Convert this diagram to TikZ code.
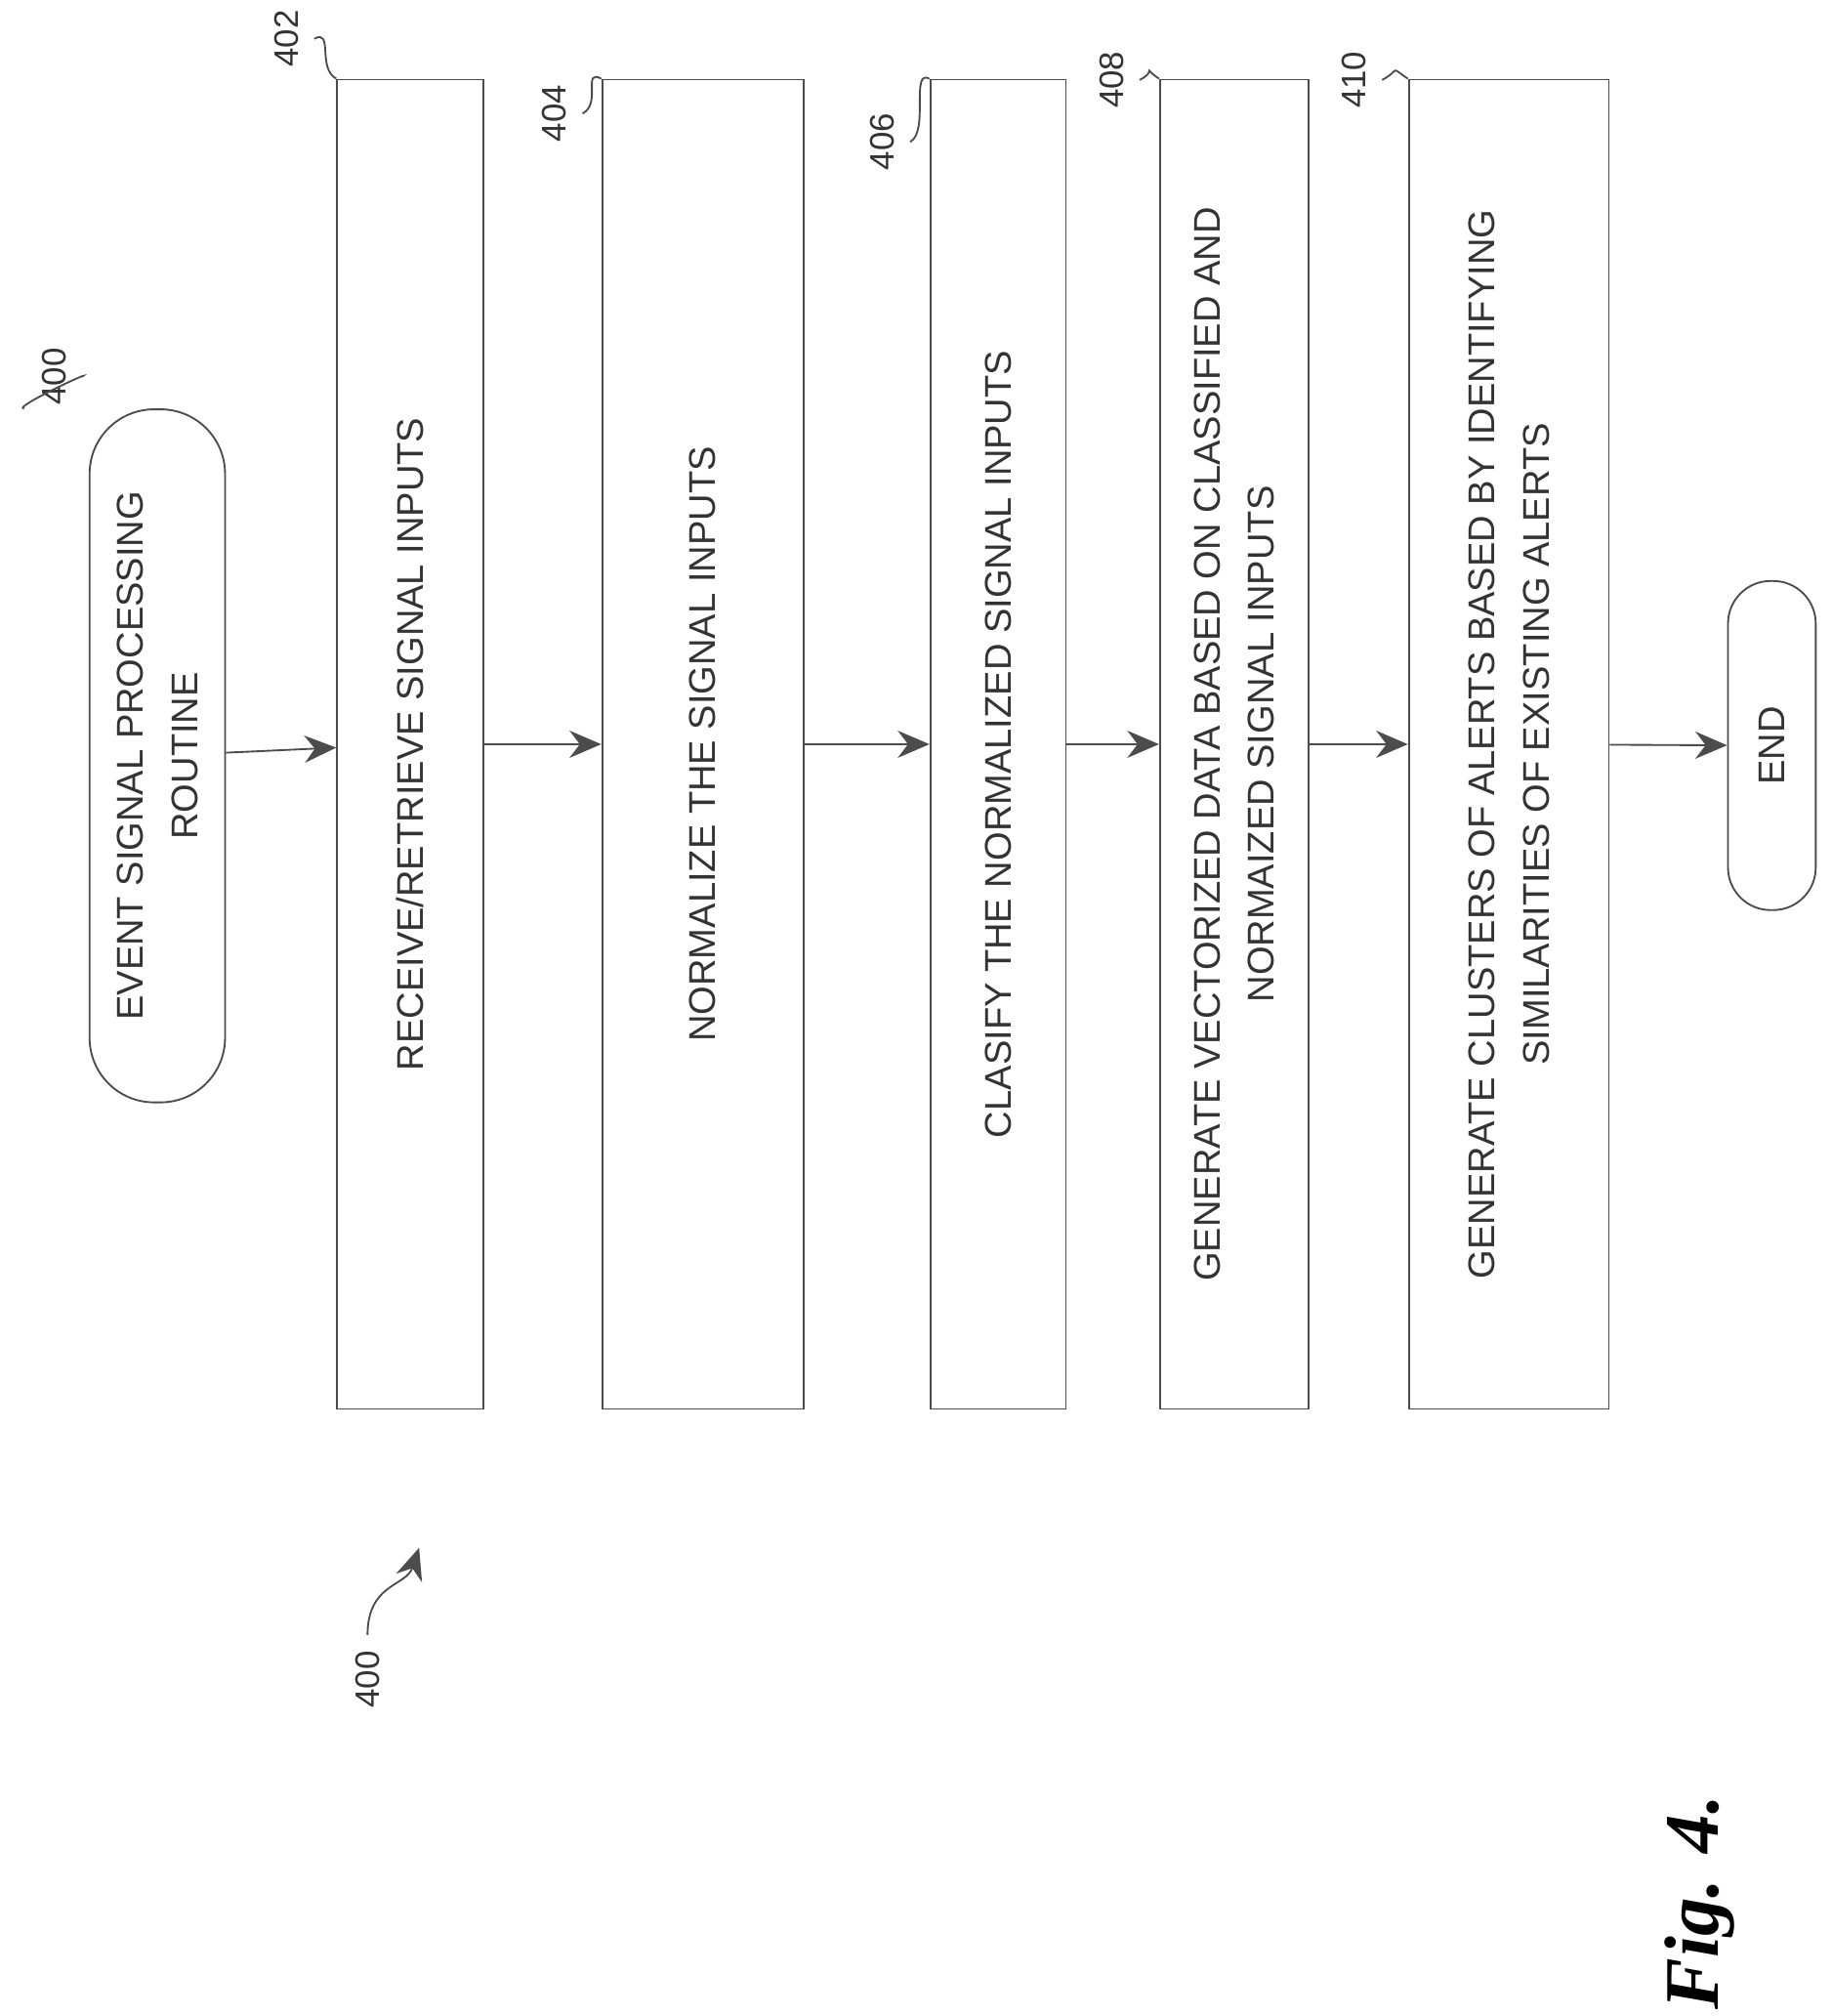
\documentclass[tikz,border=0pt]{standalone}
\usepackage{fontspec}
\setmainfont{Liberation Sans}
\newfontfamily\figfont{Liberation Serif}
\usetikzlibrary{arrows.meta,positioning}
\begin{document}
\begin{tikzpicture}[x=0.01cm,y=-0.01cm,
  stepbox/.style={draw=black!70,rectangle,rotate=90,align=center,inner sep=2pt,
    font=\fontsize{8.2}{12}\selectfont,text=black!80,minimum width=10.3cm},
  term/.style={stepbox,rounded corners=0.5cm},
  flow/.style={-{Stealth[length=7pt,width=6pt]},draw=black!70},
  ref/.style={font=\fontsize{7.5}{9}\selectfont,rotate=90,text=black!80},
  lead/.style={draw=black!70}]

\useasboundingbox (0,0) rectangle (1420,1563);

% flow steps
\node[term,minimum width=5.37cm,minimum height=1.05cm] (start) at (122,586) {EVENT SIGNAL PROCESSING\\ROUTINE};
\node[stepbox,minimum height=1.13cm] (recv) at (318,577) {RECEIVE/RETRIEVE SIGNAL INPUTS};
\node[stepbox,minimum height=1.56cm] (norm) at (545,577) {NORMALIZE THE SIGNAL INPUTS};
\node[stepbox,minimum height=1.05cm] (clas) at (774,577) {CLASIFY THE NORMALIZED SIGNAL INPUTS};
\node[stepbox,minimum height=1.15cm] (vect) at (957,577) {GENERATE VECTORIZED DATA BASED ON CLASSIFIED AND\\NORMAIZED SIGNAL INPUTS};
\node[stepbox,minimum height=1.55cm] (clus) at (1170,577) {GENERATE CLUSTERS OF ALERTS BASED BY IDENTIFYING\\SIMILARITIES OF EXISTING ALERTS};
\node[stepbox,rounded corners=0.33cm,minimum width=2.55cm,minimum height=0.68cm] (end) at (1374,578) {END};

% connectors
\draw[flow] (start) -- (recv);
\draw[flow] (recv) -- (norm);
\draw[flow] (norm) -- (clas);
\draw[flow] (clas) -- (vect);
\draw[flow] (vect) -- (clus);
\draw[flow] (clus) -- (end);

% reference numerals
\node[ref] (n400a) at (42,292) {400};
\draw[lead] (n400a.south) .. controls +(8,-5) and +(-10,0) .. ([xshift=-0.5cm]start.north east);
\node[ref] (n402) at (222,30) {402};
\draw[lead] (n402.south) .. controls +(15,-8) and +(-15,-8) .. (recv.north east);
\node[ref] (n404) at (430,88) {404};
\draw[lead] (n404.south) .. controls +(15,-8) and +(-15,-8) .. (norm.north east);
\node[ref] (n406) at (684,110) {406};
\draw[lead] (n406.south) .. controls +(15,-8) and +(-15,-8) .. (clas.north east);
\node[ref] (n408) at (862,62) {408};
\draw[lead] (n408.south) .. controls +(15,-8) and +(-15,-10) .. (vect.north east);
\node[ref] (n410) at (1050,62) {410};
\draw[lead] (n410.south) .. controls +(15,-8) and +(-15,-10) .. (clus.north east);

\node[ref] (n400) at (285,1302) {400};
\coordinate (tip) at (325,1200);
\draw[flow] (n400.east) .. controls +(0,-40) and +(-10,30) .. (tip);

\node[rotate=90,font=\figfont\fontsize{17}{17}\selectfont\bfseries\itshape] (fig) at (1318,1475) {Fig. 4.};
\end{tikzpicture}
\end{document}
